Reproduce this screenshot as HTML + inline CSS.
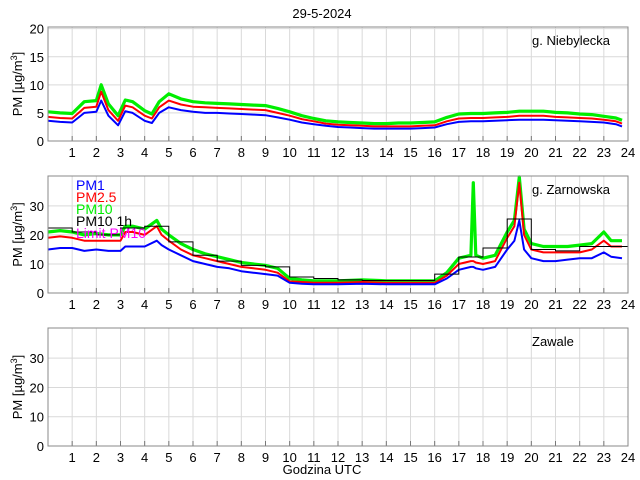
<!DOCTYPE html>
<html><head><meta charset="utf-8">
<style>
html,body{margin:0;padding:0;background:#fff;}
svg{display:block;font-family:"Liberation Sans",sans-serif;}
</style></head>
<body>
<svg id="chart" width="640" height="480" viewBox="0 0 640 480">
<text x="322" y="18" font-size="13" text-anchor="middle">29-5-2024</text>
<text x="322" y="474" font-size="13" text-anchor="middle">Godzina UTC</text>
</svg>
<script>
// ---- data ----
const hourTicks = [1,2,3,4,5,6,7,8,9,10,11,12,13,14,15,16,17,18,19,20,21,22,23,24];
const yTicksTop = [0,5,10,15,20];
const yTicksLow = [0,10,20,30];
const stationNames = ["g. Niebylecka","g. Zarnowska","Zawale"];
const legendLabels = ["PM1","PM2.5","PM10","PM10 1h","Limit PM10"];

// Panel 1 (g. Niebylecka)
const t1 = [0,0.5,1,1.5,2,2.2,2.5,2.9,3.2,3.5,4,4.3,4.6,5,5.5,6,6.5,7,7.5,8,8.5,9,9.5,10,10.5,11,11.5,12,12.5,13,13.5,14,14.5,15,15.5,16,16.5,17,17.5,18,18.5,19,19.5,20,20.5,21,21.5,22,22.5,23,23.5,23.75];
const pm1_1 = [3.6,3.4,3.3,5.0,5.2,7.2,4.5,2.8,5.3,5.0,3.6,3.2,5.0,6.0,5.5,5.2,5.0,5.0,4.9,4.8,4.7,4.6,4.2,3.8,3.3,3.0,2.7,2.5,2.4,2.3,2.2,2.2,2.2,2.2,2.3,2.4,3.0,3.4,3.5,3.5,3.6,3.7,3.8,3.8,3.8,3.7,3.6,3.5,3.4,3.3,3.0,2.6];
const pm25_1 = [4.3,4.1,4.0,5.9,6.1,8.8,5.5,3.6,6.3,6.0,4.5,4.0,6.0,7.2,6.5,6.1,6.0,5.9,5.8,5.7,5.6,5.5,5.0,4.5,3.9,3.5,3.1,2.9,2.8,2.7,2.6,2.6,2.6,2.6,2.7,2.8,3.5,4.0,4.1,4.1,4.2,4.3,4.5,4.5,4.5,4.3,4.2,4.1,4.0,3.8,3.5,3.1];
const pm10_1 = [5.2,5.0,4.9,7.0,7.2,10.0,6.6,4.5,7.3,7.0,5.4,4.8,7.0,8.4,7.5,7.0,6.8,6.7,6.6,6.5,6.4,6.3,5.8,5.2,4.5,4.0,3.6,3.4,3.3,3.2,3.1,3.1,3.2,3.2,3.3,3.4,4.2,4.8,4.9,4.9,5.0,5.1,5.3,5.3,5.3,5.1,5.0,4.8,4.7,4.4,4.1,3.7];

// Panel 2 (g. Zarnowska)
const t2 = [0,0.5,1,1.5,2,2.5,3,3.2,3.5,4,4.5,4.7,5,5.5,6,6.5,7,7.5,8,8.5,9,9.5,10,10.5,11,12,13,14,15,16,16.5,17,17.5,17.6,17.7,18,18.5,19,19.3,19.5,19.7,20,20.5,21,21.5,22,22.5,23,23.3,23.75];
const pm1_2 = [15,15.5,15.5,14.5,15,14.5,14.5,16,16,16,18,16.5,15,13,11,10,9,8.5,7.5,7,6.5,6,3.5,3.2,3,3,3.2,3,3,3,5,8,9,9,8.5,8,9,15,18,25,15,12,11,11,11.5,12,12,14,12.5,12];
const pm25_2 = [19,19.5,19,18,18,18,18,21,21,20,23,20,18,15,13,12,11,10,9,8.5,8,7,4,3.8,3.5,3.5,3.8,3.5,3.5,3.5,6,10,11,11,10.5,10,11,19,23,38,20,15,14,14,14,14,15,18,16,16];
const pm10_2 = [21,21.5,21,20,20.5,20,20,23,23,22,25,22,20,17,15,13.5,12.5,11.5,10.5,10,9.5,8.5,5,4.5,4.2,4.2,4.5,4.2,4.2,4.2,7,12,13,38,13,12,13,21,25,40,22,17,16,16,16,16.5,17,21,18,18];
const hourly10 = [22.4,21,20,22.4,23,17.6,13,11,9.5,9,5.5,5,4.5,4.3,4.3,4.3,6.5,12.4,15.5,25.5,15,14.5,16,16];

// Panel 3 (Zawale): no data
const pm10_3 = [];

// ---- drawing ----
const svg = document.getElementById('chart');
const NS = 'http://www.w3.org/2000/svg';
const X0 = 48, X1 = 628;
const panels = [
  {top:27, bot:141, ymax:20.3, ticks:yTicksTop},
  {top:176, bot:293, ymax:40.3, ticks:yTicksLow},
  {top:328, bot:446, ymax:40.3, ticks:yTicksLow}
];
function xs(h){ return X0 + (X1-X0)*h/24; }
function mk(tag, attrs){ const e=document.createElementNS(NS,tag); for(const k in attrs) e.setAttribute(k,attrs[k]); svg.appendChild(e); return e; }

panels.forEach((p,pi)=>{
  const ys = v => p.bot - (p.bot-p.top)*Math.min(v,p.ymax)/p.ymax;
  p.ys = ys;
  const bg = mk('rect',{x:X0,y:p.top,width:X1-X0,height:p.bot-p.top,fill:'#fff'});
  
  
  hourTicks.forEach(h=>{
    const g = mk('line',{x1:xs(h),x2:xs(h),y1:p.top,y2:p.bot,stroke:'#d9d9d9','stroke-width':1});
    
    
    const tk = mk('line',{x1:xs(h),x2:xs(h),y1:p.bot,y2:p.bot-5,stroke:'#777','stroke-width':1});
    
    
    const tl = mk('text',{x:xs(h),y:p.bot+16,'font-size':13,'text-anchor':'middle'});
    tl.textContent = h;
    
    
  });
  p.ticks.forEach(v=>{
    const g = mk('line',{x1:X0,x2:X1,y1:ys(v),y2:ys(v),stroke:'#d9d9d9','stroke-width':1});
    
    
    const tl = mk('text',{x:X0-4,y:ys(v)+5,'font-size':13,'text-anchor':'end'});
    tl.textContent = v;
    
    
  });
  const cy = (p.top+p.bot)/2;
  const yl = mk('text',{x:0,y:0,'font-size':13,'text-anchor':'middle',transform:`translate(22,${cy}) rotate(-90)`});
  yl.innerHTML = 'PM [µg/m<tspan dy="-5" font-size="9">3</tspan><tspan dy="5">]</tspan>';
  
  
  const st = mk('text',{x:532,y:p.top+18,'font-size':13});
  st.textContent = stationNames[pi];
  
  
});

function series(p, t, vals, color, w, name){
  if(!vals.length) return;
  const d = vals.map((v,i)=>(i?'L':'M')+xs(t[i]).toFixed(1)+','+p.ys(v).toFixed(1)).join('');
  const e = mk('path',{d:d,fill:'none',stroke:color,'stroke-width':w,'stroke-linejoin':'round'});
  
  
}
const P1=panels[0], P2=panels[1];
series(P1,t1,pm10_1,'#00ee00',3.2,'pm10-line-niebylecka');
series(P1,t1,pm25_1,'#ff0000',2,'pm25-line-niebylecka');
series(P1,t1,pm1_1,'#0000ff',2,'pm1-line-niebylecka');
series(P2,t2,pm10_2,'#00ee00',3.2,'pm10-line-zarnowska');
series(P2,t2,pm25_2,'#ff0000',2,'pm25-line-zarnowska');
series(P2,t2,pm1_2,'#0000ff',2,'pm1-line-zarnowska');
// hourly step
let sd='';
hourly10.forEach((v,i)=>{ sd += (i?'L':'M')+xs(i).toFixed(1)+','+P2.ys(v).toFixed(1)+'L'+xs(i+1).toFixed(1)+','+P2.ys(v).toFixed(1); });
const step = mk('path',{d:sd,fill:'none',stroke:'#000','stroke-width':1});



// frames
panels.forEach((p,pi)=>{
  const f = mk('rect',{x:X0,y:p.top,width:X1-X0,height:p.bot-p.top,fill:'none',stroke:'#888','stroke-width':1});
  
  
});

// legend
const legColors = ['#0000ff','#ff0000','#00ee00','#000000','#ff00ff'];
legendLabels.forEach((l,i)=>{
  const e = mk('text',{x:76,y:190+i*12,'font-size':14,fill:legColors[i]});
  e.textContent = l;
  
  
});
</script>
</body></html>
